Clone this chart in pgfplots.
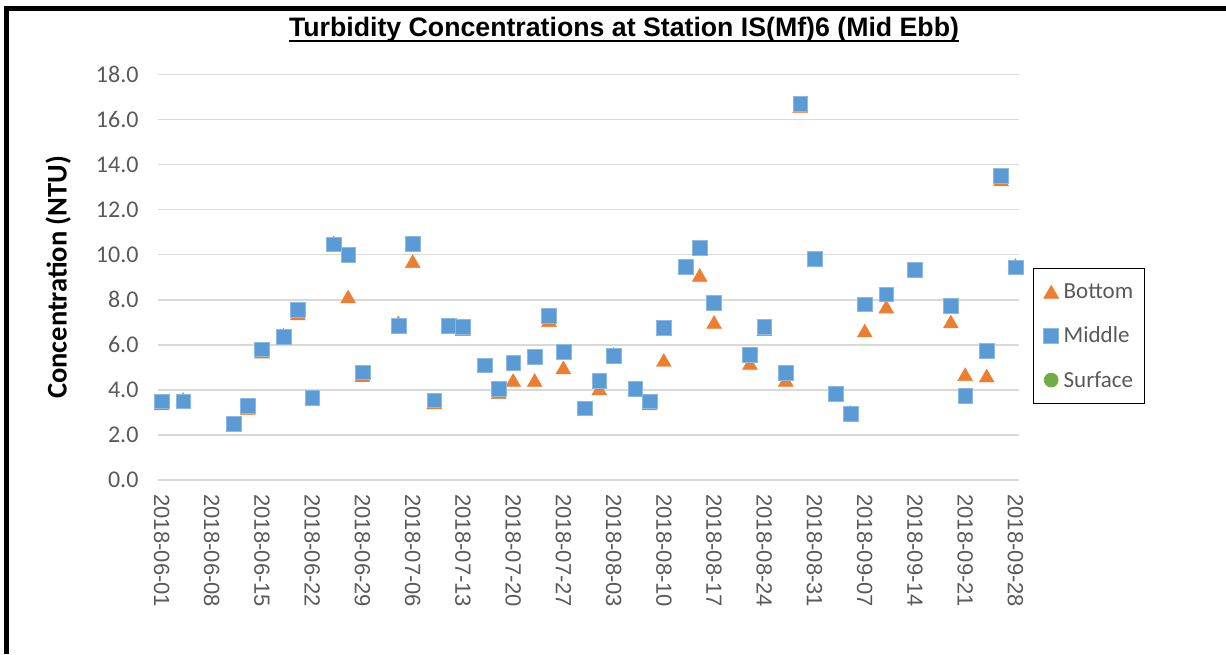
\documentclass[border=0pt]{standalone}
\usepackage{pgfplots}
\pgfplotsset{compat=1.18}
\usepackage{pgfplotstable}
\usepackage{fontspec}
\setmainfont{Carlito}
\newfontfamily\arial{Liberation Sans}
\definecolor{cBottom}{HTML}{ED7D31}
\definecolor{cMiddle}{HTML}{5B9BD5}
\definecolor{cSurface}{HTML}{70AD47}
\definecolor{tickgray}{HTML}{595959}
\definecolor{gridgray}{HTML}{D9D9D9}

% day = days since 2018-06-01
\pgfplotstableread{
day val
0 3.40
3 3.60
10 2.45
12 3.20
14 5.70
17 6.45
19 7.40
21 3.70
24 10.55
26 8.15
28 4.65
33 7.00
35 9.72
38 3.45
40 6.80
42 6.70
45 5.10
47 3.90
49 4.44
52 4.44
54 7.10
56 5.00
59 3.15
61 4.07
63 5.60
66 4.06
68 3.40
70 5.33
73 9.47
75 9.11
77 7.02
82 5.20
84 6.70
87 4.45
89 16.60
91 9.75
94 3.85
96 3.02
98 6.64
101 7.70
105 9.35
110 7.04
112 4.70
115 4.64
117 13.35
119 9.55
}\bottomdata

\pgfplotstableread{
day val
0 3.50
3 3.50
10 2.50
12 3.29
14 5.81
17 6.37
19 7.56
21 3.64
24 10.47
26 10.00
28 4.79
33 6.86
35 10.50
38 3.54
40 6.84
42 6.80
45 5.10
47 4.04
49 5.21
52 5.47
54 7.29
56 5.69
59 3.19
61 4.40
63 5.51
66 4.06
68 3.50
70 6.77
73 9.47
75 10.31
77 7.87
82 5.56
84 6.81
87 4.77
89 16.70
91 9.82
94 3.85
96 2.96
98 7.81
101 8.25
105 9.35
110 7.75
112 3.75
115 5.75
117 13.50
119 9.45
}\middledata

\begin{document}
\begin{tikzpicture}
\path[use as bounding box] (0pt,0pt) rectangle (1226pt,654pt);
\fill[black] (4pt,0pt) rectangle (8.7pt,648pt);
\fill[black] (4pt,643.3pt) rectangle (1226pt,648pt);
\node[font=\arial\bfseries\fontsize{26.7}{26.7}\selectfont, inner sep=0pt, anchor=base] (title) at (624pt,617pt) {Turbidity Concentrations at Station IS(Mf)6 (Mid Ebb)};
\draw[line width=1.7pt] ([yshift=-4pt]title.base west) -- ([yshift=-4pt]title.base east);
\begin{axis}[
  at={(158pt,174pt)}, anchor=south west,
  width=861pt, height=405.3pt, scale only axis,
  xmin=-0.5, xmax=119.5, ymin=0, ymax=18,
  clip=false,
  axis line style={draw=none},
  major tick length=0pt,
  ymajorgrids, major grid style={gridgray, line width=1.3pt},
  ytick={0,2,...,18},
  yticklabel shift=16pt,
  yticklabel style={font=\fontsize{24}{24}\selectfont, color=tickgray, /pgf/number format/.cd, fixed, fixed zerofill, precision=1, assume math mode=true},
  xtick={0,7,...,119},
  xticklabels={2018-06-01,2018-06-08,2018-06-15,2018-06-22,2018-06-29,2018-07-06,2018-07-13,2018-07-20,2018-07-27,2018-08-03,2018-08-10,2018-08-17,2018-08-24,2018-08-31,2018-09-07,2018-09-14,2018-09-21,2018-09-28},
  xticklabel shift=11pt,
  xticklabel style={rotate=-90, anchor=west, font=\arial\fontsize{22}{22}\selectfont, color=tickgray},
  legend style={at={(1.0163,0.523)}, anchor=north west, draw=black, line width=1.3pt,
    font=\fontsize{23}{23}\selectfont, text=tickgray, inner xsep=10pt, inner ysep=14pt, row sep=25pt, column sep=4pt,
    nodes={inner sep=1pt}},
  legend cell align=left,
  legend image code/.code={\draw[#1, line width=0.6pt] plot coordinates {(0pt,0pt)}; \path[draw=none, fill=none] (-7.5pt,-6pt) rectangle (7.5pt,6pt);},
]
\addplot[only marks, mark=triangle*, mark size=8.6pt, mark options={fill=cBottom, draw=cBottom, yshift=-2.2pt}] table[x=day, y=val] {\bottomdata};
\addlegendentry{Bottom}
\addplot[only marks, mark=square*, mark size=7.4pt, mark options={fill=cMiddle, draw=cMiddle!70!white}] table[x=day, y=val] {\middledata};
\addlegendentry{Middle}
\addlegendimage{only marks, mark=*, mark size=7pt, mark options={fill=cSurface, draw=cSurface}}
\addlegendentry{Surface}
\node[rotate=90, font=\bfseries\fontsize{28.5}{28.5}\selectfont] at (axis description cs:-0.116,0.5) {Concentration (NTU)};
\end{axis}
\end{tikzpicture}
\end{document}
